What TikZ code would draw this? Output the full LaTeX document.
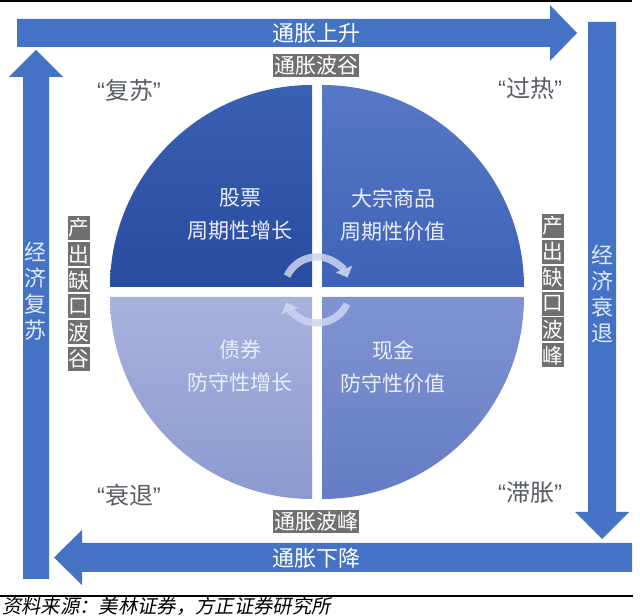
\documentclass[tikz,border=0pt]{standalone}
\usepackage{fontspec}
\setmainfont{Noto Sans CJK SC}
\newfontfamily\quotefont{Liberation Sans}
\newfontfamily\notefont[FakeSlant=0.2]{Noto Sans CJK SC}
\usetikzlibrary{arrows.meta}
\definecolor{arrowblue}{RGB}{68,114,196}
\definecolor{labelgray}{RGB}{112,112,112}
\definecolor{phasegray}{RGB}{88,92,100}
\definecolor{bartext}{RGB}{225,233,248}
\definecolor{assettext}{RGB}{236,239,249}
\definecolor{turncol}{RGB}{205,212,238}
\definecolor{tlA}{RGB}{58,96,178}\definecolor{tlB}{RGB}{40,76,160}
\definecolor{trA}{RGB}{86,120,198}\definecolor{trB}{RGB}{62,98,182}
\definecolor{blA}{RGB}{168,178,222}\definecolor{blB}{RGB}{140,154,208}
\definecolor{brA}{RGB}{128,148,210}\definecolor{brB}{RGB}{100,124,196}
\newcommand{\qlab}[1]{{\quotefont\char"201C}#1{\quotefont\char"201D}}
\begin{document}
\begin{tikzpicture}[x=0.75pt,y=-0.75pt,every node/.style={inner sep=0pt},
  bigarrow/.style={fill=arrowblue},
  arrowtext/.style={text=white,font=\fontsize{16.5}{20}\selectfont},
  graybox/.style={fill=labelgray,text=white,font=\fontsize{15.75}{18}\selectfont,minimum width=64.5pt,minimum height=17.25pt},
  vgraybox/.style={fill=labelgray,text=white,font=\fontsize{15.5}{18}\selectfont,minimum width=16.5pt,minimum height=18pt},
  vtext/.style={text=bartext,align=center,font=\fontsize{16.5}{19.5}\selectfont},
  phase/.style={text=phasegray,font=\fontsize{18}{20}\selectfont},
  asset/.style={text=assettext,align=center,font=\fontsize{15.75}{24.75}\selectfont},
  turnarrow/.style={draw=turncol,line width=5.5pt,opacity=0.85,-{Triangle[width=13pt,length=7pt]}}]
  \useasboundingbox (0,0) rectangle (640,616);
  \fill[white] (0,0) rectangle (640,616);
  % frame lines
  \draw[line width=2pt] (0,1) -- (632,1);
  \draw[line width=2pt] (0,596) -- (633,596);
  % big arrows round the cycle
  \fill[bigarrow] (17,19) -- (550,19) -- (550,5) -- (577,33) -- (550,61) -- (550,47) -- (17,47) -- cycle;
  \fill[bigarrow] (588,22) -- (616,22) -- (616,512) -- (629,512) -- (602,539) -- (575,512) -- (588,512) -- cycle;
  \fill[bigarrow] (632,543) -- (632,572) -- (82,572) -- (82,585) -- (54,557.5) -- (82,530) -- (82,543) -- cycle;
  \fill[bigarrow] (23,579) -- (49,579) -- (49,77) -- (63,77) -- (36,50) -- (9,77) -- (23,77) -- cycle;
  \node[arrowtext] (infup) at (316,33) {通胀上升};
  \node[arrowtext] (infdown) at (316,558) {通胀下降};
  \node[vtext] (recov) at (36,291) {经\\济\\复\\苏};
  \node[vtext] (slow) at (602,294) {经\\济\\衰\\退};
  % quadrants
  \shade[top color=tlA,bottom color=tlB] (312,287) -- ++(-202,0) arc[start angle=180,end angle=270,radius=202] -- cycle;
  \shade[top color=trA,bottom color=trB] (322,287) -- ++(0,-202) arc[start angle=270,end angle=360,radius=202] -- cycle;
  \shade[top color=brA,bottom color=brB] (322,297) -- ++(202,0) arc[start angle=0,end angle=90,radius=202] -- cycle;
  \shade[top color=blA,bottom color=blB] (312,297) -- ++(0,202) arc[start angle=90,end angle=180,radius=202] -- cycle;
  \node[asset] (stock) at (240,214) {股票\\周期性增长};
  \node[asset] (comm) at (393,214.5) {大宗商品\\周期性价值};
  \node[asset] (bond) at (240,366.5) {债券\\防守性增长};
  \node[asset] (cash) at (393,367.5) {现金\\防守性价值};
  % turning arrows in the middle
  \draw[turnarrow] (317,290) ++(-155:33) arc[start angle=-155,end angle=-22,radius=33];
  \draw[turnarrow] (317,290) ++(25:33) arc[start angle=25,end angle=158,radius=33];
  % gray labels
  \node[graybox] (trough) at (316,65.5) {通胀波谷};
  \node[graybox] (peak) at (316,522) {通胀波峰};
  \foreach \c [count=\i] in {产,出,缺,口,波,谷}
    \node[vgraybox] (gapl\i) at (79,202+26.1*\i) {\c};
  \foreach \c [count=\i] in {产,出,缺,口,波,峰}
    \node[vgraybox] (gapr\i) at (553,200+25.9*\i) {\c};
  % phase names
  \node[phase] (rec) at (129,90) {\qlab{复苏}};
  \node[phase] (heat) at (530,88) {\qlab{过热}};
  \node[phase] (stag) at (530,493) {\qlab{滞胀}};
  \node[phase] (down) at (129,495) {\qlab{衰退}};
  % source
  \node[anchor=west,font=\notefont\fontsize{14.5}{16}\selectfont] (src) at (2,606) {资料来源：美林证券，方正证券研究所};
\end{tikzpicture}
\end{document}
